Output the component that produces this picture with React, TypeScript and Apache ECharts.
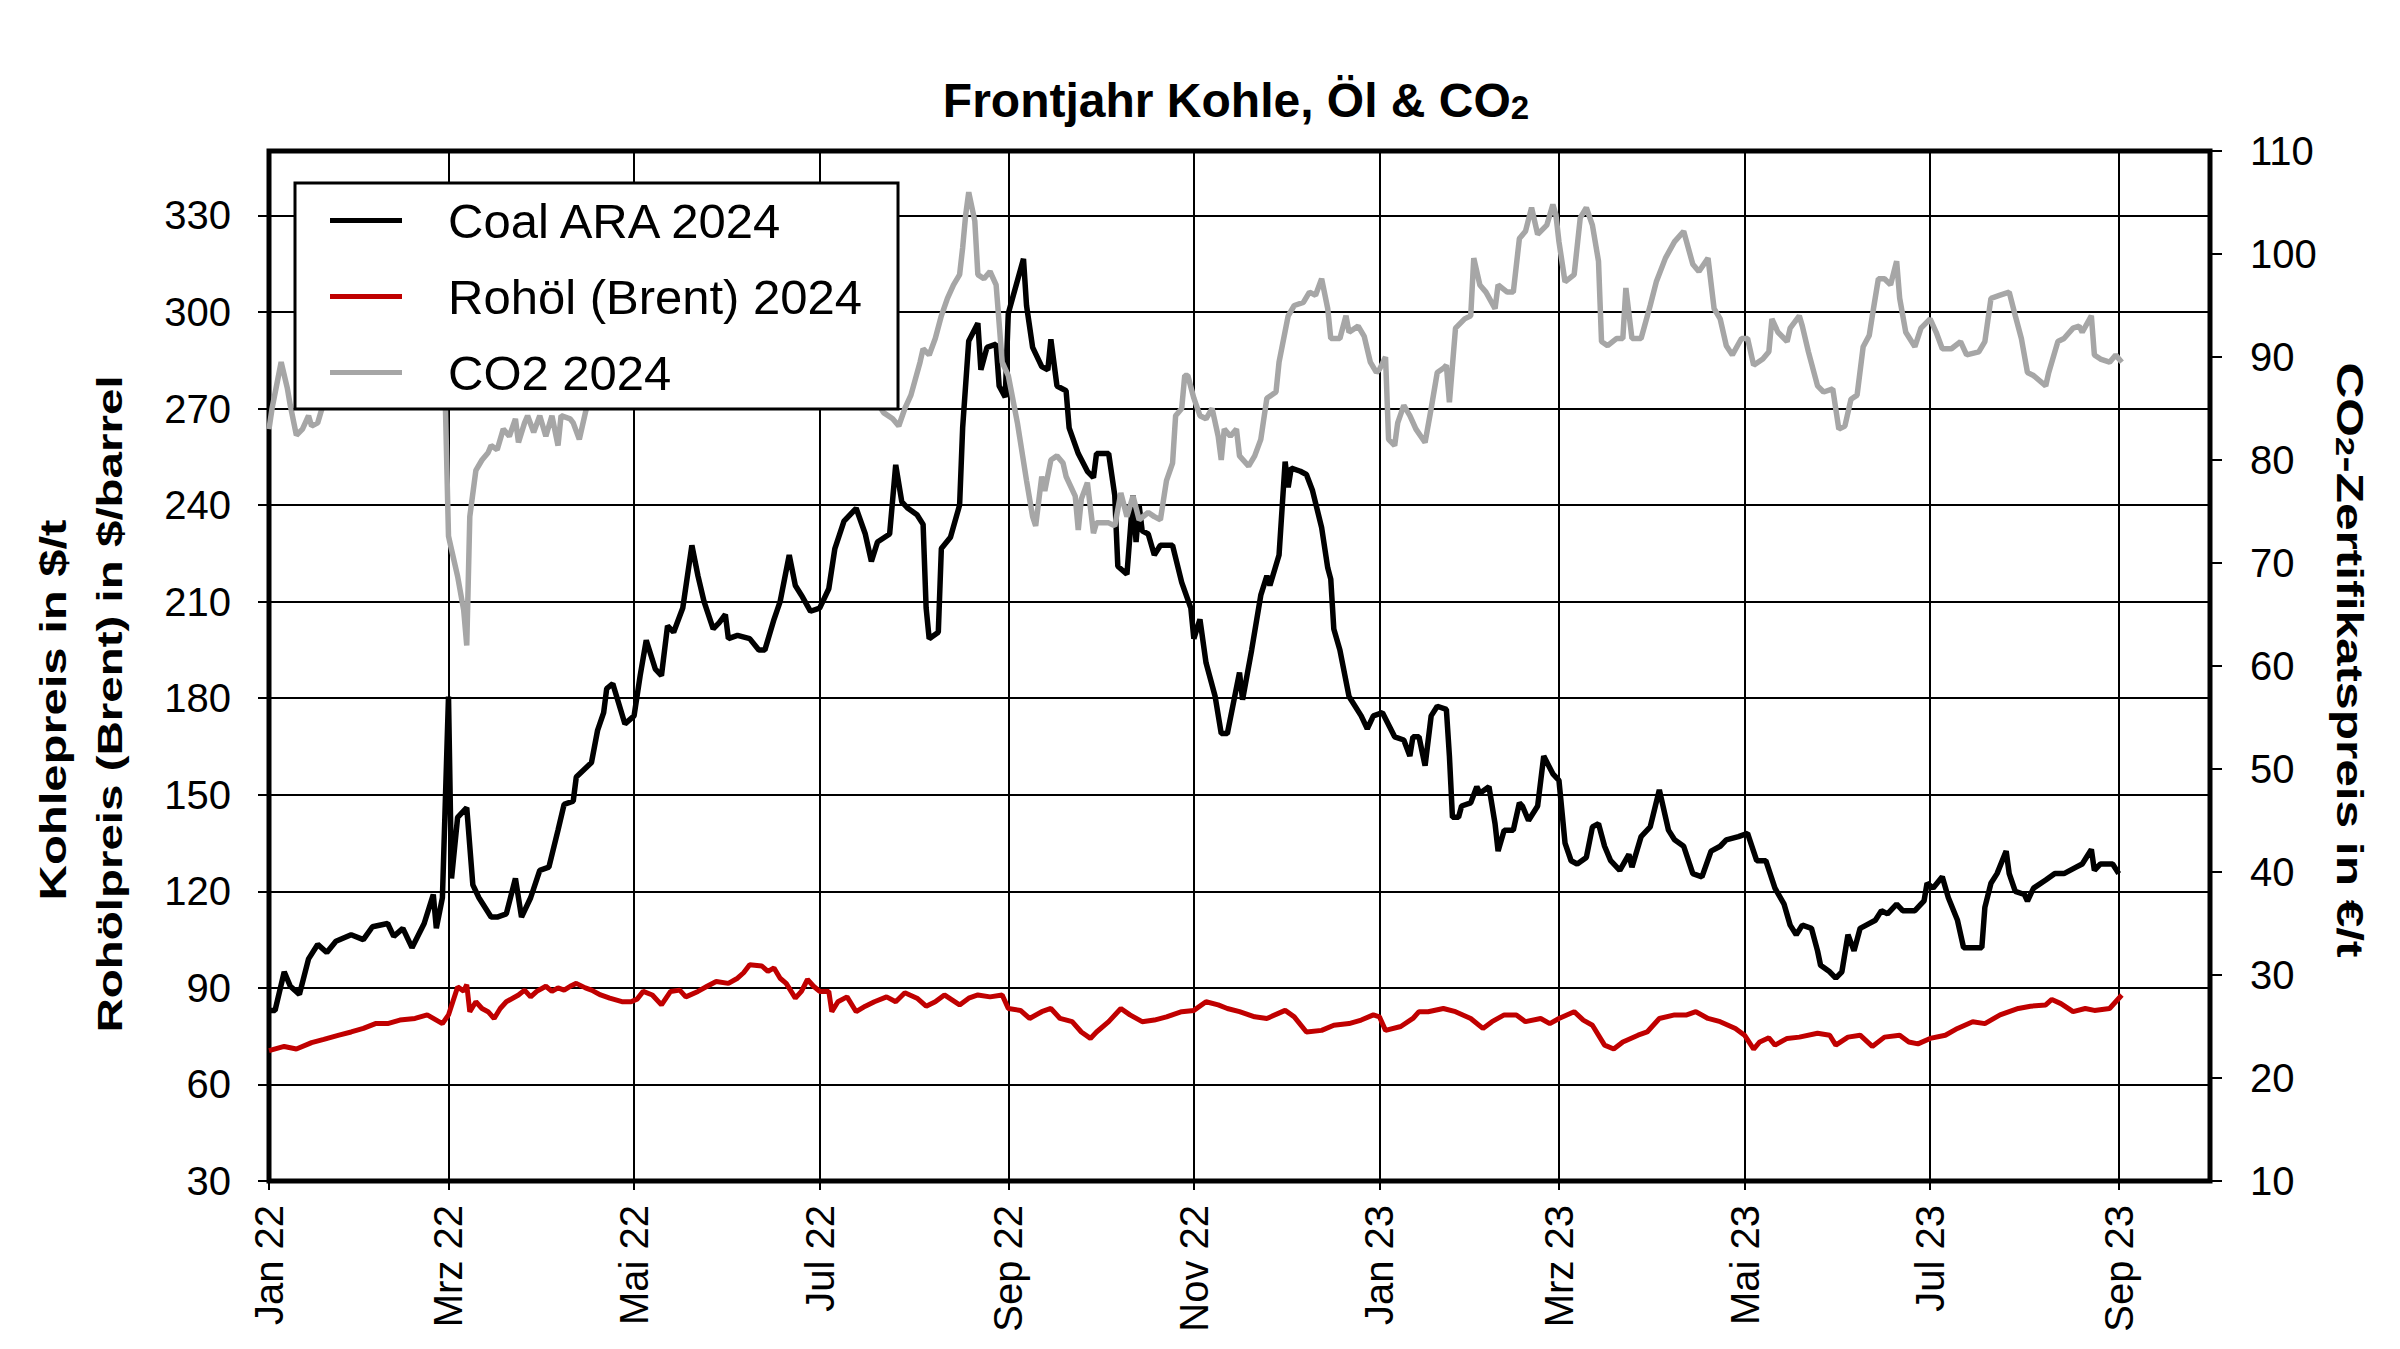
import React, { useEffect, useRef } from "react";
import * as echarts from "echarts";

// ---------- data (x = days since 2022-01-01) ----------
const coalDays = [0,2,5,7,10,13,16,19,22,27,31,34,39,41,44,47,51,54,55,57,59,60,62,65,67,69,73,75,78,81,83,86,89,92,95,97,100,101,106,108,110,111,113,117,120,122,124,127,129,131,133,136,139,141,143,146,148,150,151,154,158,161,163,166,168,171,173,175,178,181,184,186,189,193,196,198,200,204,206,208,210,213,215,216,217,220,221,224,227,228,230,233,234,236,239,240,242,243,248,249,251,254,256,257,259,262,263,266,269,271,272,276,278,279,282,284,285,286,287,289,291,293,297,300,303,304,306,308,311,313,315,317,319,320,323,326,328,329,332,334,335,336,339,341,343,346,348,349,350,352,355,359,361,363,366,370,373,375,376,378,380,382,384,387,388,389,391,392,395,397,398,401,403,404,406,409,411,412,414,417,419,422,424,426,428,430,433,435,437,439,441,444,447,448,451,454,457,460,462,465,468,471,474,477,479,483,486,489,492,495,498,500,502,504,507,509,510,513,515,517,519,521,523,525,528,530,532,535,537,541,544,545,547,550,552,555,557,560,563,564,566,568,571,572,574,577,578,580,584,587,590,594,596,599,600,602,606,608];
const coalValues = [83,83,95,90.5,88,99,103.5,101,104.5,106.5,105,109,110,106,108.5,102.5,110,119,108.5,118,180.5,124,143,146,122,118,112,112,113,124,112,118,126.5,127.5,139,147,148,155.5,160,170,175.5,183,184.5,172,174.5,187,198,189,187,202.5,200.5,208,227.5,218,210,201.5,203.5,206,198.5,199.5,198.5,195,195,204.5,210,224.5,215,212,207,208,214,226.5,235,239,231,222.5,228.5,231,252.5,241,239,237,234,208,198.5,200.5,226.5,230,240,264,291,296.5,282,289,290,277,273.5,299.5,316.5,302,289,283,282,291.5,277,275.5,264,256,250.5,248.5,256,256,243,221,218.5,243,228.5,240,232,231,224.5,227.5,227.5,216,208,198.5,204.5,191,180.5,169,169,178.5,188,179.5,195,212,218,215,224.5,253.5,245.5,251.5,250.5,249.5,244.5,233,220.5,217,201.5,195,180.5,174.5,170.5,174.5,175.5,168,167,162,168,168,159,174.5,177.5,176.5,162,143,143,146.5,147.5,152.5,150.5,152.5,141,132.5,139,139,147.5,146.5,142,146.5,162,156.5,154.5,135,129.5,128.5,130.5,140,141,134,129.5,126.5,131.5,127.5,137,140,151.5,139,136,134,125.5,124.5,132.5,134,136,137,138,129.5,129.5,121,116,109.5,106.5,109.5,108.5,101.5,97,95,93,95,106.5,101.5,108.5,109.5,111,114,113,116,114,114,117,122.5,121,124.5,118,111,102.5,102.5,102.5,115,122.5,125.5,132.5,125.5,120,119,117,121,123.5,125.5,125.5,127.5,128.5,133,126.5,128.5,128.5,125.5];

const oilDays = [0,5,9,14,18,23,27,31,35,39,43,48,52,57,59,62,64,65,66,68,70,72,74,76,78,82,84,86,88,91,93,95,97,99,101,104,106,109,112,116,119,121,123,126,129,132,135,137,141,144,147,151,154,156,158,162,164,166,168,170,173,175,177,179,181,184,185,187,190,193,196,199,203,206,209,213,216,219,222,227,230,233,237,241,243,247,250,254,257,260,264,267,270,272,276,280,283,287,291,295,300,304,308,312,315,319,324,328,334,337,341,346,350,355,359,363,365,367,372,376,378,381,386,390,395,399,402,406,410,413,418,421,424,429,432,435,439,442,445,450,453,457,462,466,469,473,477,482,485,488,490,493,495,499,503,509,513,515,519,523,527,531,536,539,542,546,551,555,560,564,569,575,579,584,586,589,593,597,600,605,607,609];
const oilValues = [70.5,71.8,71,73,74,75.3,76.3,77.4,78.9,78.9,80,80.5,81.6,78.9,81.6,90.3,89,91,82.6,85.7,83.6,82.6,80.5,83.6,85.7,87.8,89.3,87.2,88.9,90.5,88.9,90,89.3,90.5,91.4,90,89.3,87.8,86.8,85.7,85.7,86.5,88.9,87.8,84.7,88.9,89.3,87.2,88.9,90.5,92,91.4,93,94.7,97.2,96.8,95.1,96.2,93,91.4,86.8,88.9,92.6,90.5,88.9,88.9,82.6,85.7,87.2,82.6,84.3,85.7,87.2,85.7,88.5,86.8,84.3,85.7,87.8,84.7,86.8,87.8,87.2,87.8,83.6,83,80.5,82.6,83.6,80.5,79.5,76.3,74.3,76.3,79.5,83.6,81.6,79.5,80,81,82.6,83,85.7,84.7,83.6,82.6,81,80.5,83,81,76.3,76.8,78.4,78.9,80,81.6,81,76.8,78,80.5,82.6,82.6,83.6,82.6,80.5,77.4,79.5,81.6,81.6,79.5,80.5,78.9,80.5,82.6,80,78.4,72.2,71,73.2,75.3,76.3,80.5,81.6,81.6,82.6,80.5,79.5,77.4,75.3,71,73.2,74.5,72.2,74.3,74.7,75.9,75.3,72.2,74.7,75.3,71.8,74.7,75.3,73.2,72.6,74.3,75.3,77.4,79.5,78.9,81.6,83.6,84.3,84.7,86.4,85.1,82.6,83.6,83,83.6,85.7,87.8];

const co2Days = [0,1,3,4,6,7,9,11,13,14,16,17,19,22,26,30,34,38,42,46,50,54,56,58,59,60,62,64,65,66,68,70,72,73,75,77,79,81,82,84,85,87,89,91,93,95,96,99,100,102,104,106,110,115,120,125,130,135,140,145,150,155,160,165,170,175,180,185,190,195,199,202,205,207,209,211,214,215,217,219,221,223,225,227,228,229,230,232,233,235,237,239,241,243,246,249,251,252,254,255,257,259,261,262,265,266,267,269,271,272,276,278,280,282,284,286,289,291,293,295,297,298,300,301,302,304,306,308,310,312,313,314,316,318,319,322,324,326,328,331,332,335,337,340,342,344,346,348,349,352,354,355,358,360,362,364,365,367,368,370,371,373,375,377,380,382,384,386,387,388,390,393,395,396,398,400,403,404,407,409,411,413,415,417,420,422,423,424,426,429,431,433,435,437,438,440,443,445,446,448,451,454,456,459,462,465,468,470,473,475,477,479,481,484,486,488,491,493,494,496,499,500,503,504,506,509,511,514,516,518,520,522,524,526,527,529,531,533,535,536,538,541,543,546,548,550,553,556,558,562,564,566,569,572,574,576,578,580,584,585,588,590,593,595,596,599,600,602,605,607,609];
const co2Values = [83,85,88,89.5,87,85.3,82.4,83,84.3,83.3,83.6,84.6,86.5,88,87,89,91,93,95,94,96,93,90,85,72.6,71.3,68.7,65.4,62,74.5,79,80,80.7,81.4,81,83,82.3,84,81.7,83.6,84.3,82.7,84.3,82.3,84.3,81.4,84.3,84,83.6,82,84.6,87,89,88,90,88,87,89,91,88,86,87,89,87,86,88,87,89,87,86.5,86,84.6,84,83.3,85,86.3,89.5,90.8,90.2,91.8,94,95.7,97,98,100.6,103.8,106,103.2,98,97.6,98.3,97,89.5,88.2,83.6,78,74.5,73.6,78.4,77,80,80.4,79.7,78.4,76.5,73.2,76.2,77.8,72.9,73.9,73.9,73.6,76.8,74.5,76.5,74.2,74.9,74.5,74.2,78,79.7,84.3,85,88.2,88.2,86,84.3,84,85,82.3,80,83,82.3,83,80.4,79.4,80.4,82,86,86.6,89.5,94,95,95.3,96.3,96,97.6,94.7,91.8,91.8,94,92.4,93,92,89.5,88.5,88.8,90,82,81.4,83.6,85.3,84.3,83,81.7,85,88.5,88.9,89.2,85.6,92.8,93.7,94,99.6,97,96.3,94.7,97,96.3,96.3,101.5,102.2,104.5,101.9,102.8,104.8,103.8,101.2,97.3,98,103.5,104.5,102.8,99.3,91.5,91.1,91.8,91.8,96.7,91.8,91.8,95,97.3,99.6,101.2,102.2,99,98.3,99.6,94.7,93.7,91.1,90.2,91.8,91.8,89.2,89.8,90.5,93.7,92.4,91.5,92.8,94,93,90.5,87.2,86.6,86.9,83,83.3,85.9,86.3,91,92.1,94,97.6,97.6,97,99.3,95.7,92.4,91,92.8,93.7,92.4,90.8,90.8,91.5,90.2,90.5,91.5,95.7,96,96.3,94,91.8,88.5,88.2,87.2,88.5,91.5,91.8,92.8,93,92.4,94,90.2,89.8,89.5,90.2,89.5];

const monthTickDates = ["2022-01-01","2022-03-01","2022-05-01","2022-07-01","2022-09-01","2022-11-01","2023-01-01","2023-03-01","2023-05-01","2023-07-01","2023-09-01"];
const monthTickLabels = ["Jan 22","Mrz 22","Mai 22","Jul 22","Sep 22","Nov 22","Jan 23","Mrz 23","Mai 23","Jul 23","Sep 23"];
const leftTicks = [30,60,90,120,150,180,210,240,270,300,330];
const seriesNames = ["Coal ARA 2024","Rohöl (Brent) 2024","CO2 2024"];

const FONT = "'Liberation Sans', Arial, Helvetica, sans-serif";

function parseDate(s: string): number {
  const [y, m, d] = s.split("-").map(Number);
  return new Date(y, m - 1, d).getTime();
}
function dayTs(d: number): number {
  return new Date(2022, 0, 1 + d).getTime();
}
function pairs(days: number[], vals: number[]) {
  return days.map((d, i) => [dayTs(d), vals[i]]);
}

export default function App() {
  const ref = useRef<HTMLDivElement>(null);
  useEffect(() => {
    document.body.style.margin = "0";
    document.body.style.overflow = "hidden";
    if (!ref.current) return;
    const chart = echarts.init(ref.current, null, { renderer: "svg" });
    const tickVals = monthTickDates.map(parseDate);
    const option: any = {
      animation: false,
      backgroundColor: "#ffffff",
      textStyle: { fontFamily: FONT, color: "#000" },
      grid: {
        left: 269, top: 151, width: 1941, height: 1030,
        show: true, borderColor: "#000", borderWidth: 5, backgroundColor: "transparent",
        containLabel: false,
      },
      legend: {
        data: seriesNames,
        orient: "vertical",
        left: 295, top: 183,
        padding: [13, 36, 12, 35],
        itemGap: 27,
        itemWidth: 72,
        itemHeight: 5,
        icon: "rect",
        backgroundColor: "#ffffff",
        borderColor: "#000",
        borderWidth: 3,
        borderRadius: 0,
        selectedMode: false,
        textStyle: { fontSize: 49, lineHeight: 48, fontFamily: FONT, color: "#000", padding: [0, 0, 0, 41] },
        z: 10,
      },
      xAxis: {
        type: "value",
        min: dayTs(0),
        max: parseDate("2023-10-01"),
        axisLine: { show: false },
        axisTick: { show: true, customValues: tickVals, length: 9, lineStyle: { color: "#000", width: 2 } },
        axisLabel: {
          customValues: tickVals,
          rotate: 90,
          margin: 24,
          fontSize: 40,
          fontFamily: FONT,
          color: "#000",
          formatter: (v: number) => {
            const i = tickVals.indexOf(v);
            return i >= 0 ? monthTickLabels[i] : "";
          },
        },
        splitLine: { show: true, lineStyle: { color: "#000", width: 2 } },
      },
      yAxis: [
        {
          type: "value",
          position: "left",
          min: 30, max: 350,
          axisLine: { show: false },
          axisTick: { show: true, customValues: leftTicks, length: 11, lineStyle: { color: "#000", width: 2 } },
          axisLabel: { customValues: leftTicks, margin: 38, fontSize: 40, fontFamily: FONT, color: "#000" },
          splitLine: { show: true, lineStyle: { color: "#000", width: 2 } },
        },
        {
          type: "value",
          position: "right",
          min: 10, max: 110, interval: 10,
          axisLine: { show: false },
          axisTick: { show: true, length: 12, lineStyle: { color: "#000", width: 2 } },
          axisLabel: { margin: 40, fontSize: 40, fontFamily: FONT, color: "#000" },
          splitLine: { show: false },
        },
      ],
      series: [
        {
          name: seriesNames[0], type: "line", yAxisIndex: 0,
          data: pairs(coalDays, coalValues),
          symbol: "none", showSymbol: false,
          lineStyle: { color: "#000000", width: 5.5 }, itemStyle: { color: "#000000" },
          z: 3,
        },
        {
          name: seriesNames[1], type: "line", yAxisIndex: 0,
          data: pairs(oilDays, oilValues),
          symbol: "none", showSymbol: false,
          lineStyle: { color: "#c00000", width: 5 }, itemStyle: { color: "#c00000" },
          z: 3,
        },
        {
          name: seriesNames[2], type: "line", yAxisIndex: 1,
          data: pairs(co2Days, co2Values),
          symbol: "none", showSymbol: false,
          lineStyle: { color: "#a6a6a6", width: 5.5 }, itemStyle: { color: "#a6a6a6" },
          z: 3,
        },
      ],
      graphic: [
        {
          type: "text", x: 1236, y: 100, z: 20,
          style: {
            text: "Frontjahr Kohle, Öl & CO{sub|2}",
            fontSize: 48, fontWeight: "bold", fontFamily: FONT, fill: "#000",
            align: "center", verticalAlign: "middle",
            rich: { sub: { fontSize: 33, fontWeight: "bold", fontFamily: FONT, lineHeight: 14, verticalAlign: "bottom", fill: "#000" } },
          },
        },
        {
          type: "text", x: 53, y: 710, rotation: Math.PI / 2, scaleX: 1.36, z: 20,
          style: {
            text: "Kohlepreis in $/t",
            fontSize: 36, fontWeight: "bold", fontFamily: FONT, fill: "#000",
            align: "center", verticalAlign: "middle",
          },
        },
        {
          type: "text", x: 110, y: 704, rotation: Math.PI / 2, scaleX: 1.32, z: 20,
          style: {
            text: "Rohölpreis (Brent) in $/barrel",
            fontSize: 36, fontWeight: "bold", fontFamily: FONT, fill: "#000",
            align: "center", verticalAlign: "middle",
          },
        },
        {
          type: "text", x: 2350, y: 660, rotation: -Math.PI / 2, scaleX: 1.34, z: 20,
          style: {
            text: "CO{sub|2}-Zertifikatspreis in €/t",
            fontSize: 37, fontWeight: "bold", fontFamily: FONT, fill: "#000",
            align: "center", verticalAlign: "middle",
            rich: { sub: { fontSize: 26, fontWeight: "bold", fontFamily: FONT, lineHeight: 12, verticalAlign: "bottom", fill: "#000" } },
          },
        },
      ],
    };
    chart.setOption(option);
    return () => chart.dispose();
  }, []);
  return <div ref={ref} style={{ width: 2400, height: 1349 }} />;
}
